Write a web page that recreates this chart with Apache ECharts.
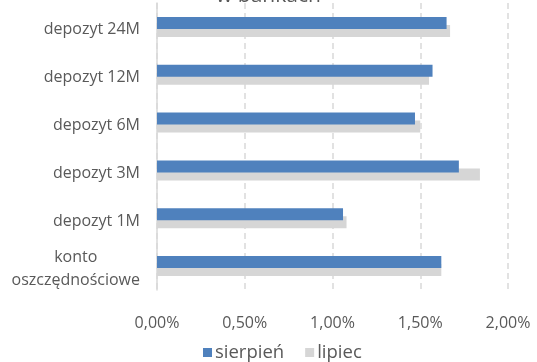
<!DOCTYPE html>
<html>
<head>
<meta charset="utf-8">
<script src="https://cdn.jsdelivr.net/npm/echarts@6/dist/echarts.min.js"></script>
<style>
  html, body { margin: 0; padding: 0; background: #ffffff; }
  #chart { width: 537px; height: 362px; }
</style>
</head>
<body>
<div id="chart"></div>
<script>
// Deposit rates by product, top to bottom
const categories = ['depozyt 24M', 'depozyt 12M', 'depozyt 6M', 'depozyt 3M', 'depozyt 1M', 'konto\noszczędnościowe'];
const sierpien = [1.65, 1.57, 1.47, 1.72, 1.06, 1.62];
const lipiec = [1.67, 1.55, 1.50, 1.84, 1.08, 1.62];
const seriesNames = ['sierpień', 'lipiec'];
const axisTicks = [0, 0.5, 1.0, 1.5, 2.0];

const textColor = '#595959';
const font = 'Open Sans, DejaVu Sans, sans-serif';

const chart = echarts.init(document.getElementById('chart'), null, { renderer: 'canvas' });
chart.setOption({
  animation: false,
  title: {
    text: 'w bankach',
    left: 'center',
    top: -19,
    textStyle: { color: textColor, fontFamily: font, fontSize: 21, fontWeight: 'normal' }
  },
  grid: { left: 157, right: 29, top: 3, bottom: 72 },
  legend: {
    data: seriesNames,
    bottom: 0,
    left: 203,
    padding: 0,
    itemWidth: 9,
    itemHeight: 9,
    itemGap: 21,
    icon: 'rect',
    textStyle: { color: textColor, fontFamily: font, fontSize: 18.5, padding: [0, 0, 0, -2] }
  },
  xAxis: {
    type: 'value',
    min: axisTicks[0],
    max: axisTicks[axisTicks.length - 1],
    interval: axisTicks[1] - axisTicks[0],
    axisLine: { show: false },
    axisTick: { show: false },
    splitLine: { show: true, lineStyle: { color: '#d9d9d9', type: [6, 4], width: 1.5 } },
    axisLabel: {
      color: textColor, fontFamily: font, fontSize: 16, margin: 25,
      formatter: v => v.toFixed(2).replace('.', ',') + '%'
    }
  },
  yAxis: {
    type: 'category',
    data: categories,
    inverse: true,
    axisLine: { show: true, lineStyle: { color: '#d9d9d9', width: 1.5 } },
    axisTick: { show: false },
    axisLabel: {
      color: textColor, fontFamily: font, fontSize: 16, margin: 17, align: 'right',
      padding: [6, 0, 0, 0],
      // multi-line names are centred line by line
      formatter: v => v.split('\n').map(s => '{c|' + s + '}').join('\n'),
      rich: {
        c: { color: textColor, fontFamily: font, fontSize: 16, lineHeight: 23, align: 'center' }
      }
    }
  },
  series: [
    {
      name: seriesNames[0],
      type: 'bar',
      data: sierpien,
      barWidth: 12,
      barGap: '-33%',
      z: 3,
      itemStyle: { color: '#4f81bd' }
    },
    {
      name: seriesNames[1],
      type: 'bar',
      data: lipiec,
      barWidth: 12,
      z: 2,
      itemStyle: { color: '#d6d6d6' }
    }
  ]
});
</script>
</body>
</html>
